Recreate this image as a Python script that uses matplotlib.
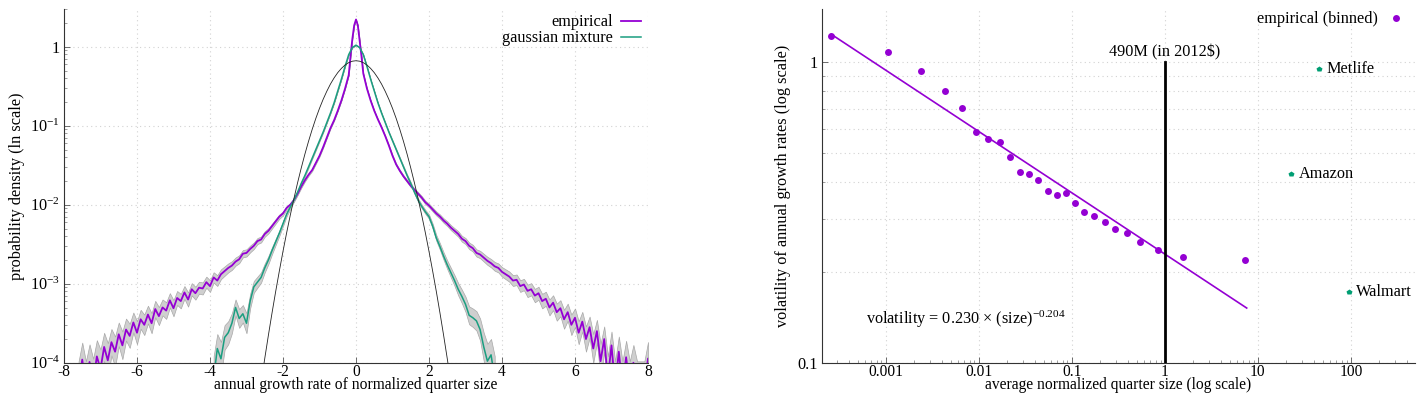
import matplotlib
matplotlib.use("Agg")
import matplotlib.pyplot as plt
import numpy as np
from matplotlib.ticker import FuncFormatter, LogLocator, NullFormatter, FixedLocator

plt.rcParams['font.family'] = ['Liberation Serif', 'DejaVu Serif']
plt.rcParams['mathtext.fontset'] = 'custom'
plt.rcParams['mathtext.rm'] = 'Liberation Serif'
plt.rcParams['mathtext.it'] = 'Liberation Serif:italic'
plt.rcParams['font.size'] = 11.7
plt.rcParams['axes.unicode_minus'] = False

# ---- left panel: growth-rate densities (log10 of density) ----
emp_left_log = [-4.30, -3.96, -4.30, -3.99, -4.25, -3.92, -4.08, -3.80, -3.97, -3.74,
                -3.86, -3.64, -3.78, -3.58, -3.66, -3.49, -3.62, -3.45, -3.52, -3.39,
                -3.50, -3.32, -3.41, -3.30, -3.34, -3.21, -3.31, -3.18, -3.22, -3.11,
                -3.20, -3.07, -3.12, -3.05, -3.06, -2.98, -3.03, -2.92, -2.96, -2.88,
                -2.84, -2.80, -2.77, -2.72, -2.69, -2.62, -2.61, -2.56, -2.52, -2.46,
                -2.44, -2.37, -2.33, -2.27, -2.21, -2.15, -2.11, -2.04, -2.00, -1.94]
emp_mid_x = [-1.6, -1.5, -1.4, -1.3, -1.2, -1.1, -1.0, -0.9, -0.8, -0.7, -0.6, -0.5, -0.4,
             -0.3, -0.2, -0.15, -0.1, -0.05, 0.0, 0.05, 0.1, 0.15, 0.2, 0.3, 0.4, 0.5,
             0.6, 0.7, 0.8, 0.9, 1.0, 1.1, 1.2, 1.3, 1.4, 1.5, 1.6]
emp_mid_log = [-1.86, -1.77, -1.69, -1.62, -1.56, -1.47, -1.38, -1.27, -1.15, -1.03, -0.93,
               -0.81, -0.68, -0.53, -0.36, -0.12, 0.10, 0.27, 0.345, 0.27, 0.08, -0.12,
               -0.34, -0.53, -0.68, -0.81, -0.92, -1.02, -1.13, -1.25, -1.38, -1.49,
               -1.57, -1.64, -1.70, -1.76, -1.81]
emp_right_log = [-1.86, -1.91, -1.97, -2.01, -2.06, -2.11, -2.15, -2.20, -2.24, -2.29,
                 -2.33, -2.37, -2.43, -2.46, -2.52, -2.55, -2.61, -2.63, -2.67, -2.71,
                 -2.74, -2.78, -2.80, -2.85, -2.88, -2.91, -2.96, -2.95, -3.03, -3.01,
                 -3.09, -3.07, -3.15, -3.12, -3.22, -3.19, -3.30, -3.24, -3.36, -3.31,
                 -3.45, -3.36, -3.52, -3.43, -3.62, -3.48, -3.70, -3.55, -3.82, -3.60,
                 -3.98, -3.70, -4.20, -3.78, -4.30, -3.86, -4.30, -3.93, -4.30, -4.00,
                 -4.30, -4.30, -4.30, -3.95]

mix_left_log = [-4.20, -3.82, -3.95, -3.68, -3.62, -3.50, -3.30, -3.44, -3.38, -3.50,
                -3.22, -3.04, -2.98, -2.92, -2.80, -2.70, -2.58, -2.47, -2.36, -2.24,
                -2.12, -2.03, -1.94]
mix_half_log = [0.02, -0.01, -0.10, -0.25, -0.41, -0.56, -0.71, -0.84, -0.96, -1.08,
                -1.19, -1.30, -1.41, -1.52, -1.63, -1.73, -1.84]   # x = 0 .. 1.6
mix_right_log = [-1.94, -2.02, -2.09, -2.15, -2.27, -2.42, -2.53, -2.65, -2.76, -2.86,
                 -2.96, -3.07, -3.16, -3.26, -3.40, -3.43, -3.47, -3.58, -3.80, -3.98,
                 -3.90, -4.20]

gauss_half = [0.665, 0.656, 0.629, 0.587, 0.532, 0.470, 0.403, 0.337, 0.273, 0.216,
              0.166, 0.124, 0.090, 0.0636, 0.0437, 0.0292, 0.0190, 0.0120, 0.00739,
              0.00442, 0.00257, 0.00145, 0.000800, 0.000428, 0.000223, 0.000113, 5.56e-5]  # x = 0 .. 2.6
band_k = 0.00225  # half width of grey band (log10) scales as band_k / sqrt(density)

emp_x = np.concatenate([np.linspace(-7.6, -1.7, 60), emp_mid_x, np.linspace(1.7, 8.0, 64)])
emp_log = np.concatenate([emp_left_log, emp_mid_log, emp_right_log])
half_x = np.linspace(0, 1.6, 17)
mix_x = np.concatenate([np.linspace(-3.9, -1.7, 23), -half_x[:0:-1], half_x, np.linspace(1.7, 3.8, 22)])
mix_log = np.concatenate([mix_left_log, mix_half_log[:0:-1], mix_half_log, mix_right_log])
g_x = np.linspace(0, 2.6, 27)
gauss_x = np.concatenate([-g_x[:0:-1], g_x])
gauss_y = np.concatenate([gauss_half[:0:-1], gauss_half])

# ---- right panel: volatility vs size ----
size_bins = [2.56e-4, 1.06e-3, 2.42e-3, 4.35e-3, 6.6e-3, 9.4e-3, 0.0127, 0.0168, 0.0219,
             0.0281, 0.0351, 0.0439, 0.0552, 0.069, 0.0869, 0.108, 0.137, 0.175, 0.226,
             0.295, 0.397, 0.543, 0.842, 1.59, 7.32]
vol_bins = [1.223, 1.082, 0.933, 0.805, 0.706, 0.588, 0.556, 0.541, 0.485, 0.431, 0.425,
            0.406, 0.372, 0.361, 0.366, 0.340, 0.318, 0.309, 0.293, 0.279, 0.270, 0.252,
            0.237, 0.224, 0.219]
fit_coef = 0.230
fit_exp = -0.204
fit_range = [2.6e-4, 7.6]
firms = ['Metlife', 'Amazon', 'Walmart']
firm_size = [45.6, 22.6, 95.0]
firm_vol = [0.95, 0.426, 0.172]
threshold = 1.0

purple = '#9400d3'
teal = '#1a9e80'
green = '#009e73'
grid_kw = dict(color='#d2d2d2', linestyle=(0, (1, 3)), linewidth=0.8)

fig = plt.figure(figsize=(14.22, 3.93), dpi=100)
ax1 = fig.add_axes([0.045, 0.0770, 0.4107, 0.9000])
ax2 = fig.add_axes([0.5778, 0.0770, 0.4173, 0.8993])

# left panel
for xs, lg in [(emp_x, emp_log), (mix_x, mix_log)]:
    xs = np.asarray(xs)
    lg = np.asarray(lg)
    half = band_k / np.sqrt(10 ** lg)
    ax1.fill_between(xs, 10 ** (lg - half), 10 ** (lg + half), facecolor='#cfcfcf',
                     edgecolor='#a8a8a8', linewidth=0.5, zorder=2)
for xs, lg, col, lw, lab in [(emp_x, emp_log, purple, 1.3, 'empirical'),
                             (mix_x, mix_log, teal, 1.1, 'gaussian mixture')]:
    ax1.plot(xs, 10 ** np.asarray(lg), color=col, lw=lw, label=lab, zorder=3)
ax1.plot(gauss_x, gauss_y, color='#222222', lw=0.6, zorder=3)

ax1.set_yscale('log')
ax1.set_xlim(-8, 8)
ax1.set_ylim(1e-4, 3.0)
ax1.set_xticks(np.arange(-8, 9, 2))
ax1.xaxis.set_major_formatter(FuncFormatter(lambda v, p: '%d' % v))
ax1.yaxis.set_major_locator(FixedLocator([1e-4, 1e-3, 1e-2, 1e-1, 1]))
ax1.yaxis.set_minor_locator(LogLocator(base=10, subs=np.arange(2, 10)))
ax1.yaxis.set_minor_formatter(NullFormatter())
ax1.yaxis.set_major_formatter(FuncFormatter(
    lambda v, p: '1' if abs(v - 1) < 1e-9 else r'$10^{%d}$' % round(np.log10(v))))
ax1.grid(True, which='major', **grid_kw)
ax1.set_ylabel('probability density (ln scale)', labelpad=3)
ax1.legend(loc='upper right', bbox_to_anchor=(0.988, 0.985), frameon=False, markerfirst=False,
           handlelength=1.2, handletextpad=0.5, labelspacing=0.0, borderpad=0, borderaxespad=0)

# right panel
ax2.plot(fit_range, [fit_coef * s ** fit_exp for s in fit_range], color=purple, lw=1.2, zorder=3)
ax2.plot(size_bins, vol_bins, 'o', color=purple, ms=5, mec='none', zorder=4, label='empirical (binned)')
ax2.plot([threshold, threshold], [0.1, 1.0], color='black', lw=2, zorder=3)
ax2.text(threshold, 1.08, '490M (in 2012$)', ha='center', va='center')
ax2.plot(firm_size, firm_vol, 'p', color=green, ms=4, mec='none', zorder=4)
for name, s, v in zip(firms, firm_size, firm_vol):
    ax2.annotate(name, (s, v), xytext=(5.5, 0), textcoords='offset points', ha='left', va='center')
ax2.text(6.2e-4, 0.139, 'volatility = 0.230 \u00d7 (size)$^{-0.204}$', ha='left', va='center')

ax2.set_xscale('log')
ax2.set_yscale('log')
ax2.set_xlim(2.05e-4, 490)
ax2.set_ylim(0.1, 1.5)
ax2.xaxis.set_major_locator(FixedLocator([0.001, 0.01, 0.1, 1, 10, 100]))
ax2.xaxis.set_minor_locator(LogLocator(base=10, subs=np.arange(2, 10), numticks=20))
ax2.xaxis.set_minor_formatter(NullFormatter())
ax2.xaxis.set_major_formatter(FuncFormatter(lambda v, p: '%g' % v))
ax2.yaxis.set_major_locator(FixedLocator([0.1, 1]))
ax2.yaxis.set_minor_locator(FixedLocator([0.2, 0.3, 0.4, 0.5, 0.6, 0.7, 0.8, 0.9]))
ax2.yaxis.set_minor_formatter(NullFormatter())
ax2.yaxis.set_major_formatter(FuncFormatter(lambda v, p: '%g' % v))
ax2.grid(True, which='major', axis='x', **grid_kw)
ax2.grid(True, which='both', axis='y', **grid_kw)
ax2.set_ylabel('volatility of annual growth rates (log scale)', labelpad=4)
ax2.legend(loc='upper right', bbox_to_anchor=(0.982, 0.994), frameon=False, markerfirst=False,
           handlelength=1.0, handletextpad=0.6, borderpad=0, borderaxespad=0)

for ax in (ax1, ax2):
    for side in ('top', 'right'):
        ax.spines[side].set_visible(False)
    for side in ('left', 'bottom'):
        ax.spines[side].set_color('#333333')
        ax.spines[side].set_linewidth(0.8)
    ax.tick_params(which='major', direction='in', length=4, width=0.6, color='#555555', pad=3)
    ax.tick_params(which='minor', direction='in', length=2, width=0.5, color='#777777')
    ax.tick_params(axis='x', which='major', pad=0.6, labelsize=11.2)
    ax.set_axisbelow(True)

# x labels sit tight under the tick labels, as in the reference
fig.text(0.2504, 0.0, 'annual growth rate of normalized quarter size', ha='center', va='bottom', fontsize=11.2)
fig.text(0.7865, 0.0, 'average normalized quarter size (log scale)', ha='center', va='bottom', fontsize=11.2)

fig.savefig('out.png', dpi=100)
